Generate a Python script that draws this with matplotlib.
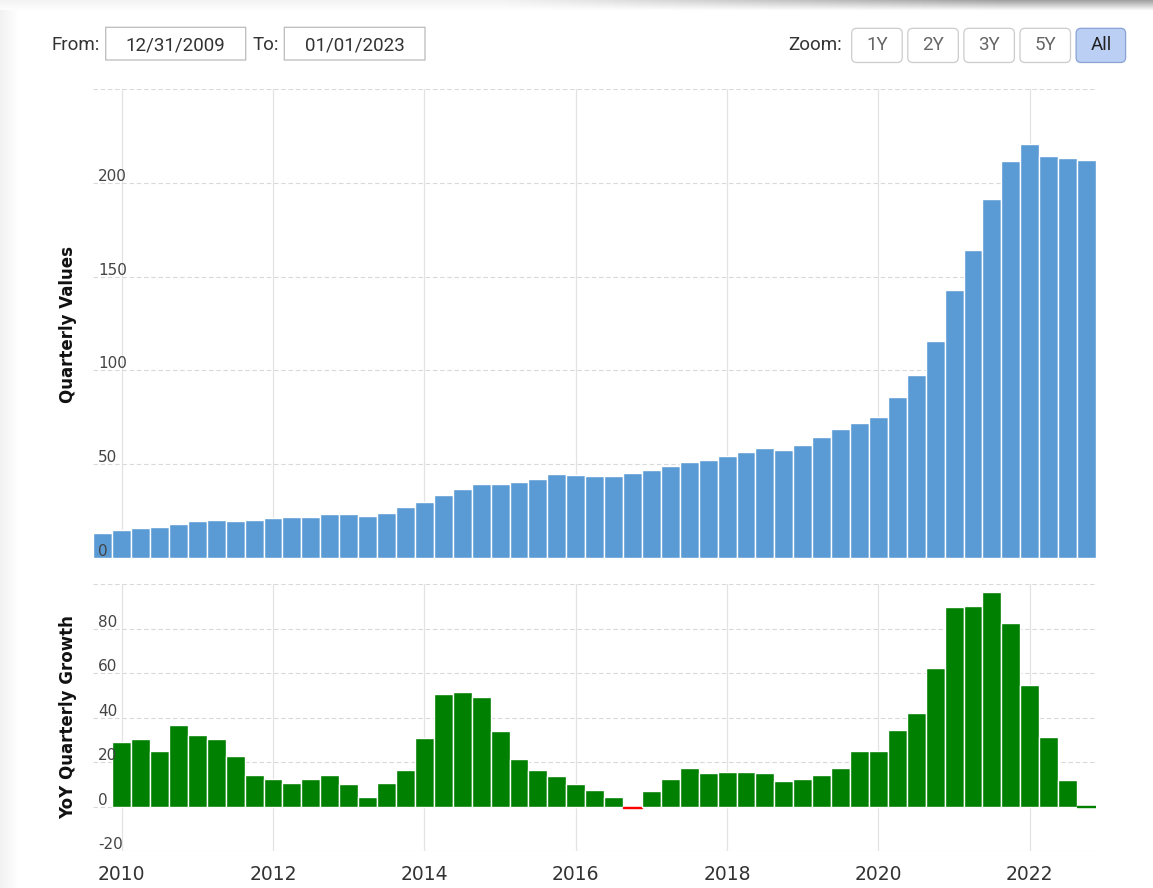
import numpy as np
import pandas as pd
import matplotlib
matplotlib.use('Agg')
import matplotlib.pyplot as plt
from matplotlib.patches import FancyBboxPatch
from matplotlib.transforms import IdentityTransform, offset_copy

# quarterly data, Q3 2009 .. Q3 2022
quarters = pd.period_range('2009Q3', '2022Q3', freq='Q')
quarterly_values = [13.3, 14.7, 15.6, 16.3, 17.8, 19.4, 20.1, 19.4, 20.1, 21.0,
                    21.6, 21.6, 23.1, 23.1, 22.3, 23.8, 26.8, 29.8, 33.7, 36.7,
                    39.6, 39.6, 40.4, 41.9, 44.9, 44.1, 43.4, 43.6, 45.0, 46.6,
                    48.9, 51.2, 52.0, 54.3, 56.6, 58.7, 57.3, 60.3, 64.2, 68.5,
                    71.7, 75.2, 85.9, 97.3, 115.5, 142.7, 164.0, 191.2, 211.7, 220.6,
                    214.5, 213.1, 212.4]

# YoY growth starts one quarter later (Q4 2009)
growth_quarters = quarters[1:]
yoy_growth = [29.0, 30.2, 25.1, 36.6, 32.1, 30.2, 22.6, 14.4, 12.5, 10.7,
              12.5, 14.4, 10.0, 4.3, 10.7, 16.4, 30.9, 50.5, 51.7, 49.2,
              34.0, 21.4, 16.4, 13.8, 10.0, 7.4, 4.3, -0.5, 6.8, 12.5,
              17.5, 15.0, 15.6, 15.6, 15.0, 11.3, 12.5, 14.4, 17.5, 25.1,
              25.1, 34.6, 42.2, 62.4, 89.6, 90.2, 96.6, 82.6, 54.8, 31.5,
              11.9, 0.4]

top_ticks = [0, 50, 100, 150, 200]
top_grid = [0, 50, 100, 150, 200, 250]
bottom_ticks = [-20, 0, 20, 40, 60, 80]
bottom_grid = [-20, 0, 20, 40, 60, 80, 100]
year_ticks = [2010, 2012, 2014, 2016, 2018, 2020, 2022]
zoom_buttons = ['1Y', '2Y', '3Y', '5Y', 'All']


def to_x(periods):
    # quarter end as fractional year
    return np.array([p.year + p.quarter / 4 for p in periods])


W, H = 1153, 888
fig = plt.figure(figsize=(W / 100, H / 100), dpi=100)


def fx(x):
    return x / W


def fy(y):
    return 1 - y / H


# light shadow around the widget
bg = np.ones((H, W, 3))
xs = np.arange(W)
t = np.clip((xs - 500) / 500, 0, 1)
top_col = 0.95 - 0.35 * t
for r in range(11):
    f = r / 11
    bg[r, :, :] = (top_col * (1 - f) + 1.0 * f)[:, None]
for c in range(18):
    f = c / 18
    bg[11:, c, :] = np.minimum(bg[11:, c, :], 0.95 + 0.05 * f)
bgax = fig.add_axes([0, 0, 1, 1], zorder=-5)
bgax.imshow(bg, aspect='auto', interpolation='bilinear')
bgax.axis('off')

left, right = 93.3, 1096
ax1 = fig.add_axes([fx(left), fy(557.7), fx(right) - fx(left), fy(89.3) - fy(557.7)])
ax2 = fig.add_axes([fx(left), fy(851), fx(right) - fx(left), fy(584.3) - fy(851)])

x_top = to_x(quarters)
x_bot = to_x(growth_quarters)
bar_w = 0.25

ax1.bar(x_top, quarterly_values, width=bar_w, color='#5b9bd5',
        edgecolor='white', linewidth=1.0)
colors = ['#008000' if v >= 0 else '#ff0000' for v in yoy_growth]
# near-zero bars keep their own colour as outline so they still show as a thin line
edges = [c if abs(v) < 1 else 'white' for v, c in zip(yoy_growth, colors)]
ax2.bar(x_bot, yoy_growth, width=bar_w, color=colors,
        edgecolor=edges, linewidth=1.0)

for ax, grid, ticks, lim in [(ax1, top_grid, top_ticks, (0, 250)),
                             (ax2, bottom_grid, bottom_ticks, (-20, 100))]:
    ax.set_xlim(2009.625, 2022.875)
    ax.set_ylim(*lim)
    ax.set_facecolor('none')
    ax.set_axisbelow(True)
    for s in ax.spines.values():
        s.set_visible(False)
    ax.set_yticks(grid)
    ax.set_yticklabels([])
    ax.set_xticks(year_ticks)
    ax.tick_params(length=0)
    ax.grid(axis='y', color='#d9d9d9', linewidth=0.8, linestyle=(0, (4, 2.5)))
    ax.grid(axis='x', color='#e3e3e3', linewidth=0.9, linestyle='-')
    tr = offset_copy(ax.get_yaxis_transform(), fig=fig, x=5, y=2, units='dots')
    for v in ticks:
        ax.text(0, v, str(v), transform=tr, ha='left', va='baseline',
                fontsize=11, color='#444444')

ax1.set_xticklabels([])
ax2.set_xticklabels([str(y) for y in year_ticks], fontsize=13.5, color='#333333')
ax2.tick_params(axis='x', pad=10)

fig.text(fx(68.3), fy(324), 'Quarterly Values', rotation=90, ha='center', va='center',
         fontsize=12, fontweight='bold', color='#111111')
fig.text(fx(68.3), fy(717.5), 'YoY Quarterly Growth', rotation=90, ha='center', va='center',
         fontsize=12, fontweight='bold', color='#111111')

# range selector header
ident = IdentityTransform()


def box(x0, y0, x1, y1, face, edge, rounding):
    p = FancyBboxPatch((x0, H - y1), x1 - x0, y1 - y0,
                       boxstyle='round,pad=0,rounding_size=%g' % rounding,
                       transform=ident, facecolor=face, edgecolor=edge, linewidth=0.9)
    fig.patches.append(p)


hdr = dict(fontfamily='Roboto', fontsize=13.5, va='baseline')
fig.text(fx(51.7), fy(50), 'From:', color='#333333', **hdr)
box(105.7, 27.3, 245.7, 60, 'white', '#bbbbbb', 0.1)
fig.text(fx(175.7), fy(50), '12/31/2009', ha='center', color='#333333', **hdr)
fig.text(fx(252.3), fy(50), 'To:', color='#333333', **hdr)
box(284.3, 27.3, 425, 60, 'white', '#bbbbbb', 0.1)
fig.text(fx(354.7), fy(50), '01/01/2023', ha='center', color='#333333', **hdr)

fig.text(fx(788.3), fy(50), 'Zoom:', color='#333333', **hdr)
bx = 851.7
for lab in zoom_buttons:
    if lab == 'All':
        box(bx, 28.3, bx + 49.5, 62.5, '#bacff3', '#8aa3d4', 5)
        col = '#222222'
    else:
        box(bx, 28.3, bx + 50.5, 62.5, 'white', '#cccccc', 5)
        col = '#666666'
    fig.text(fx(bx + 25.3), fy(50.5), lab, ha='center', color=col, **hdr)
    bx += 56.1

fig.savefig('out.png', dpi=100)
